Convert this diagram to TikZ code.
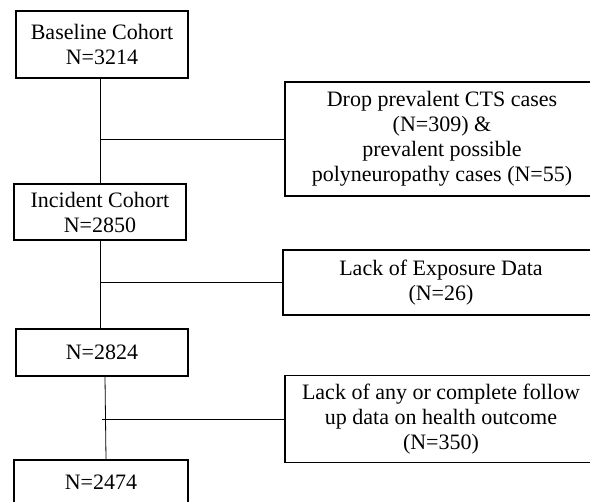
\documentclass[tikz,border=0pt]{standalone}
\usepackage{fontspec}
\setmainfont{Liberation Serif}

\begin{document}
\begin{tikzpicture}[x=1pt,y=-1pt]
		\clip (0,0) rectangle (590,502);
		\tikzstyle{every node} = [rectangle,draw=black,line width=1.6pt,align=center,inner sep=0pt,font=\fontsize{22}{25}\selectfont];
		\tikzstyle{link} = [line width=0.8pt];
		\node[minimum width=172,minimum height=67] (base) at (102, 44.5) {Baseline Cohort\\N=3214};
		\node[minimum width=314,minimum height=114] (drop) at (442, 139) {Drop prevalent CTS cases\\(N=309) \&\\prevalent possible\\polyneuropathy cases (N=55)};
		\node[minimum width=172,minimum height=56] (incident) at (100, 212) {Incident Cohort\\N=2850};
		\node[minimum width=316,minimum height=65] (expo) at (441, 282.5) {Lack of Exposure Data\\(N=26)};
		\node[minimum width=172,minimum height=47] (n2824) at (102, 352.5) {N=2824};
		\node[minimum width=312,minimum height=87] (follow) at (441, 419) {Lack of any or complete follow\\up data on health outcome\\(N=350)};
		\node[minimum width=174,minimum height=44] (n2474) at (101, 482) {N=2474};
		\draw[link] (incident.north |- base.south) -- (incident.north);
		\draw[link] (drop.west) -- (drop.west -| incident.north);
		\draw[link] (incident.south) -- (incident.south |- n2824.north);
		\draw[link] (expo.west) -- (expo.west -| incident.south);
		\draw[link] ([xshift=3pt]n2824.south) -- ([xshift=5pt]n2474.north);
		\draw[link] (follow.west) -- (follow.west -| n2824.south);
	\end{tikzpicture}
\end{document}
